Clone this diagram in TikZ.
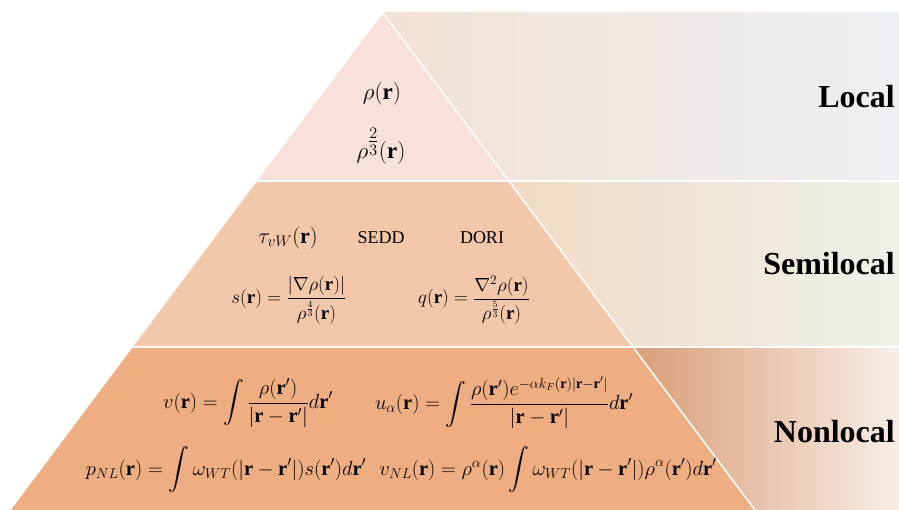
\RequirePackage{fix-cm}
\documentclass[tikz,border=0pt]{standalone}
\usepackage{amsmath}
\usepackage{fontspec}
\setmainfont{Liberation Serif}
\definecolor{tierA}{HTML}{F7E1D8}
\definecolor{tierB}{HTML}{F3C7A9}
\definecolor{tierC}{HTML}{EFAE81}
\definecolor{bandAl}{HTML}{F3E1D3}
\definecolor{bandAm}{HTML}{F2EAE5}
\definecolor{bandAr}{HTML}{EDF0F4}
\definecolor{bandBl}{HTML}{F4D2B8}
\definecolor{bandBm}{HTML}{F3E6D6}
\definecolor{bandBr}{HTML}{EEF2E9}
\definecolor{bandCl}{HTML}{D99D76}
\definecolor{bandCm}{HTML}{EBC6AE}
\definecolor{bandCr}{HTML}{F9EEE7}
\tikzset{
  tierline/.style={draw=white, line width=1.6pt},
  lbl/.style={anchor=base east, font=\fontsize{32}{36}\selectfont\bfseries, inner sep=0pt},
  fmtop/.style={inner sep=0pt, font=\fontsize{23}{26}\selectfont},
  fm/.style={inner sep=0pt, font=\fontsize{19}{22}\selectfont},
  fmtxt/.style={inner sep=0pt, font=\fontsize{18}{22}\selectfont},
  fmsmall/.style={inner sep=0pt, font=\fontsize{20.5}{24}\selectfont},
}
\begin{document}
\begin{tikzpicture}[x=1pt,y=-1pt]
\useasboundingbox (0,0) rectangle (899,510);
% background bands
\shade[left color=bandAl, middle color=bandAm, right color=bandAr] (383,13) rectangle (899,180.2);
\shade[left color=bandBl, middle color=bandBm, right color=bandBr] (383,181.8) rectangle (899,346.2);
\shade[left color=bandCl, middle color=bandCm, right color=bandCr] (633,347.8) rectangle (899,510);
% pyramid tiers
\coordinate (apex) at (383,13);
\coordinate (l1) at (257.2,181);
\coordinate (r1) at (508.8,181);
\coordinate (l2) at (133,347);
\coordinate (r2) at (633,347);
\coordinate (l3) at (11,510);
\coordinate (r3) at (755,510);
\coordinate (e1) at (899,181);
\coordinate (e2) at (899,347);
\fill[tierA] (apex) -- (r1) -- (l1) -- cycle;
\fill[tierB] (l1) -- (r1) -- (r2) -- (l2) -- cycle;
\fill[tierC] (l2) -- (r2) -- (r3) -- (l3) -- cycle;
\draw[tierline] (apex) -- (r3);
\draw[tierline] (l1) -- (r1) -- (e1);
\draw[tierline] (l2) -- (r2) -- (e2);
% top tier
\node[fmtop] (rho) at (382,94) {$\rho(\mathbf{r})$};
\node[fmtop] (rho23) at (381,146) {$\rho^{\genfrac{}{}{}{1}{2}{3}}(\mathbf{r})$};
% middle tier
\node[fm, font=\fontsize{22}{24}\selectfont] (tau) at (288,238) {$\tau_{vW}(\mathbf{r})$};
\node[fmtxt] (sedd) at (381,238) {SEDD};
\node[fmtxt] (dori) at (482,238) {DORI};
\node[fm] (s) at (289,300) {$s(\mathbf{r})=\dfrac{|\nabla\rho(\mathbf{r})|}{\rho^{\frac{4}{3}}(\mathbf{r})}$};
\node[fm] (q) at (474,300) {$q(\mathbf{r})=\dfrac{\nabla^{2}\rho(\mathbf{r})}{\rho^{\frac{5}{3}}(\mathbf{r})}$};
% bottom tier
\node[fmsmall] (v) at (248,403) {$v(\mathbf{r})=\displaystyle\int\frac{\rho(\mathbf{r}')}{|\mathbf{r}-\mathbf{r}'|}d\mathbf{r}'$};
\node[fmsmall] (u) at (504,403) {$u_{\alpha}(\mathbf{r})=\displaystyle\int\frac{\rho(\mathbf{r}')e^{-\alpha k_F(\mathbf{r})|\mathbf{r}-\mathbf{r}'|}}{|\mathbf{r}-\mathbf{r}'|}d\mathbf{r}'$};
\node[fmsmall] (p) at (226,470) {$p_{NL}(\mathbf{r})=\displaystyle\int\omega_{WT}(|\mathbf{r}-\mathbf{r}'|)s(\mathbf{r}')d\mathbf{r}'$};
\node[fmsmall] (vnl) at (548,470) {$v_{NL}(\mathbf{r})=\rho^{\alpha}(\mathbf{r})\displaystyle\int\omega_{WT}(|\mathbf{r}-\mathbf{r}'|)\rho^{\alpha}(\mathbf{r}')d\mathbf{r}'$};
% labels
\node[lbl] (local) at (895,108) {Local};
\node[lbl] (semi) at (895,275) {Semilocal};
\node[lbl] (nonlocal) at (895,442) {Nonlocal};
\end{tikzpicture}
\end{document}
